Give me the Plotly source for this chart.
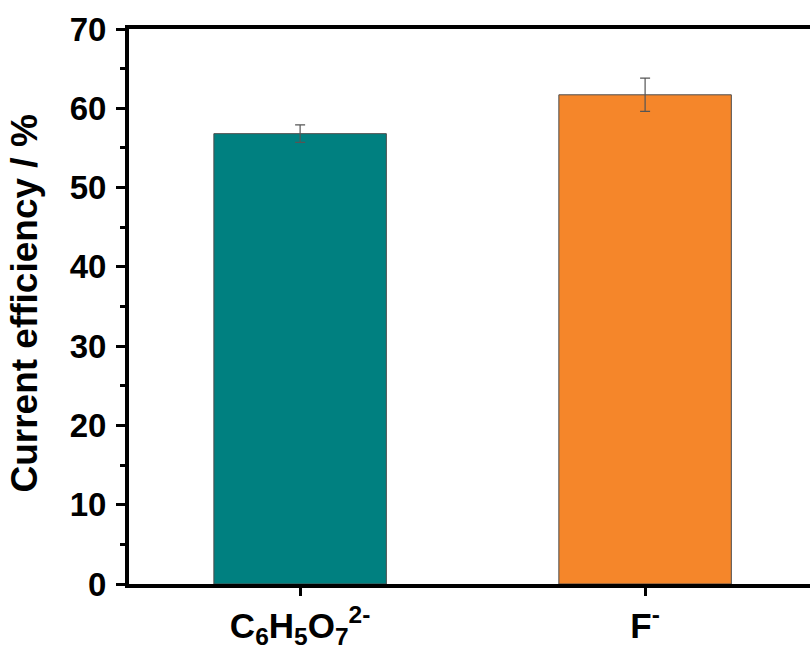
import plotly.graph_objects as go

categories = ["C<sub>6</sub>H<sub>5</sub>O<sub>7</sub><sup>2-</sup>", "F<sup>-</sup>"]
efficiency = [56.8, 61.7]
errors = [1.1, 2.1]
colors = ["rgb(0,128,128)", "rgb(245,134,42)"]
y_title = "Current efficiency / %"

x_pos = [0, 1]

fig = go.Figure()
fig.add_trace(go.Bar(
    x=x_pos, y=efficiency, width=0.5,
    marker=dict(color=colors, line=dict(color="#4d4d4d", width=1)),
    error_y=dict(type="data", array=errors, visible=True, color="#555555",
                 thickness=1.2, width=5),
))

font_family = "Liberation Sans, Arial, sans-serif"
fig.update_layout(
    width=810, height=652,
    margin=dict(l=129, r=0, t=29, b=68),
    plot_bgcolor="white", paper_bgcolor="white",
    showlegend=False,
    font=dict(family=font_family, color="black"),
    xaxis=dict(
        range=[-0.496, 1.478],
        tickmode="array", tickvals=x_pos, ticktext=["<b>%s</b>" % c for c in categories],
        tickfont=dict(size=35, family=font_family),
        showline=True, linecolor="black", linewidth=4, mirror=True,
        ticks="outside", ticklen=8, tickwidth=3, tickcolor="black",
        showgrid=False, zeroline=False,
    ),
    yaxis=dict(
        range=[0, 70], dtick=10, tick0=0,
        tickfont=dict(size=33, family=font_family),
        showline=True, linecolor="black", linewidth=4, mirror=False,
        ticks="outside", ticklen=9, tickwidth=3, tickcolor="black",
        minor=dict(ticks="outside", ticklen=5, tickwidth=3, dtick=5, tickcolor="black", showgrid=False),
        showgrid=False, zeroline=False,
        tickprefix="<b>", ticksuffix="</b>",
        ticklabelstandoff=3,
    ),
    annotations=[dict(
        text="<b>%s</b>" % y_title, textangle=-90,
        xref="paper", yref="paper", x=-0.153, y=0.505,
        xanchor="center", yanchor="middle", showarrow=False,
        font=dict(size=37, family=font_family, color="black"),
    )],
)

fig.write_html("out.html")
